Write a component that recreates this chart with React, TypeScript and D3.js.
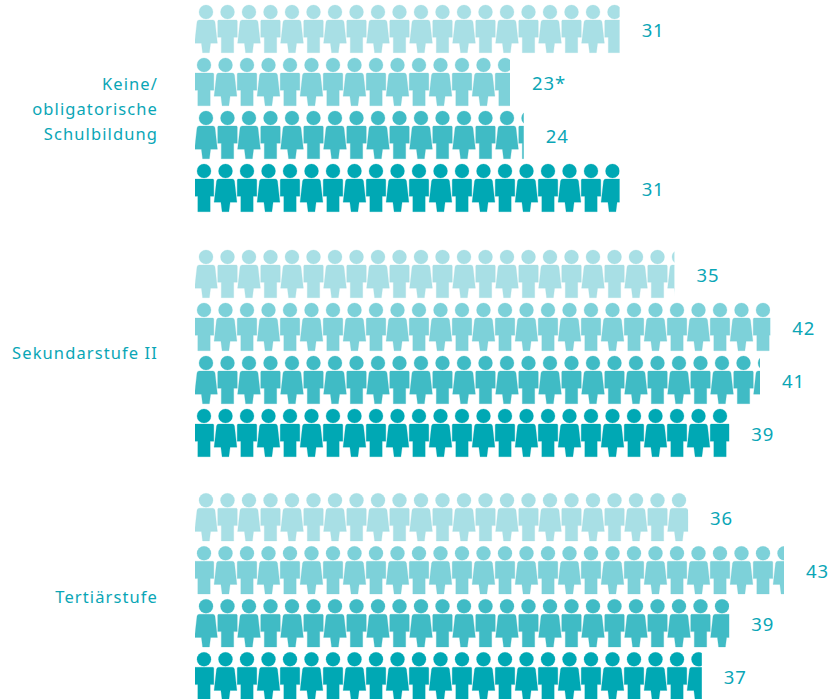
import React from "react";
import * as d3 from "d3";

const groups = ["Keine/\nobligatorische\nSchulbildung", "Sekundarstufe II", "Tertiärstufe"];
const rowColors = ["#a8dfe5", "#7dd1d9", "#40bbc5", "#00a8b4"];
const labels = [
  ["31", "23*", "24", "31"],
  ["35", "42", "41", "39"],
  ["36", "43", "39", "37"],
];
const values = [
  [31, 23, 24, 31],
  [35, 42, 41.25, 39],
  [36, 43, 39, 37],
];
const groupTops = [5, 250, 493.3];
const labelBaselines = [[90, 114.5, 139.5], [359], [603]];

const WIDTH = 833;
const HEIGHT = 699;
const FONT = "'Noto Sans', 'Open Sans', sans-serif";
const TEXT = "#0aa6b6";
const ROW_STEP = 53;
const PITCH = 21.5;

const x = d3.scaleLinear().domain([0, 43]).range([195, 784]);
const icons = d3.range(0, 28);

const womanPath =
  "M-6.8,15 L6.8,15 Q8.6,15 9,17 L11.4,38.2 L4.6,38.2 L3.4,47.7 L-3.4,47.7 L-4.6,38.2 L-11.4,38.2 L-9,17 Q-8.6,15 -6.8,15 Z";
const manPath =
  "M-8.6,15 L8.6,15 Q9.8,15 9.8,16.2 L9.8,32.3 L6.2,32.3 L6.2,47.7 L-6.2,47.7 L-6.2,32.3 L-9.8,32.3 L-9.8,16.2 Q-9.8,15 -8.6,15 Z";

function Person({ woman, cx, y, fill }: { woman: boolean; cx: number; y: number; fill: string }) {
  return (
    <g transform={`translate(${cx},${y})`} fill={fill} stroke={fill} strokeWidth={0.5} strokeOpacity={0.5}>
      <circle cx={0} cy={7} r={7} />
      <path d={woman ? womanPath : manPath} />
    </g>
  );
}

export default function App() {
  return (
    <svg
      width={WIDTH}
      height={HEIGHT}
      viewBox={`0 0 ${WIDTH} ${HEIGHT}`}
      style={{ position: "absolute", left: 0, top: 0, display: "block", background: "#fff" }}
    >
      <defs>
        {values.map((row, g) =>
          row.map((v, r) => (
            <clipPath id={`clip-${g}-${r}`} key={`${g}-${r}`}>
              <rect x={x(0)} y={groupTops[g] + r * ROW_STEP - 2} width={x(v) - x(0)} height={ROW_STEP - 2} />
            </clipPath>
          ))
        )}
      </defs>
      {values.map((row, g) =>
        row.map((v, r) => {
          const y = groupTops[g] + r * ROW_STEP;
          const womanFirst = r % 2 === 0;
          const start = womanFirst ? 206 : 204;
          return (
            <g key={`${g}-${r}`}>
              <g clipPath={`url(#clip-${g}-${r})`}>
                {icons.map((i) => (
                  <Person
                    key={i}
                    woman={womanFirst ? i % 2 === 0 : i % 2 === 1}
                    cx={start + i * PITCH}
                    y={y}
                    fill={rowColors[r]}
                  />
                ))}
              </g>
              <text x={x(v) + 22} y={y + 32} fontFamily={FONT} fontSize={18.5} letterSpacing={0.9} fill={TEXT}>
                {labels[g][r]}
              </text>
            </g>
          );
        })
      )}
      {groups.map((name, g) =>
        name.split("\n").map((line, i) => (
          <text
            key={`${g}-${i}`}
            x={158}
            y={labelBaselines[g][i]}
            textAnchor="end"
            fontFamily={FONT}
            fontSize={16.5}
            letterSpacing={1.1}
            fill={TEXT}
          >
            {line}
          </text>
        ))
      )}
    </svg>
  );
}
